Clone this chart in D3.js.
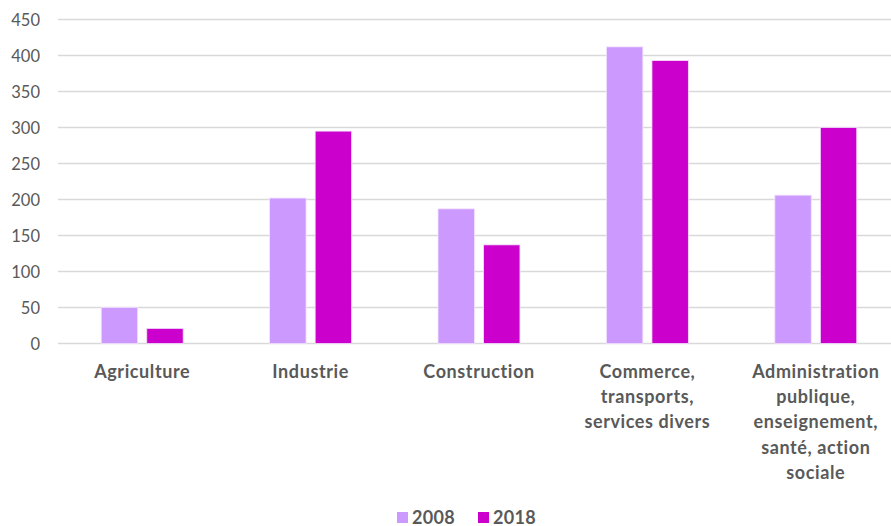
<!DOCTYPE html>
<html>
<head>
<style type="text/css">
body { margin: 0; background: #fff; }
svg { font-family: Lato, "Open Sans", sans-serif; }
.grid line { stroke: #d9d9d9; stroke-width: 1.3; }
.ytick { fill: #595959; font-size: 16.5px; }
.cat { fill: #595959; font-size: 18px; font-weight: bold; letter-spacing: 0.6px; }
.leg { fill: #595959; font-size: 18px; font-weight: bold; letter-spacing: 0.3px; }
</style>
<script src="https://d3js.org/d3.v7.min.js"></script>
</head>
<body>
<script type="text/javascript">
var categories = [
	["Agriculture"],
	["Industrie"],
	["Construction"],
	["Commerce,", "transports,", "services divers"],
	["Administration", "publique,", "enseignement,", "santé, action", "sociale"]
];
var seriesNames = ["2008", "2018"];
var values2008 = [50, 202, 187, 412, 206];
var values2018 = [21, 295, 137, 393, 300];
var yTicks = [0, 50, 100, 150, 200, 250, 300, 350, 400, 450];
var colors = ["#cc99ff", "#cc00cc"];

var width = 891, height = 526;
var plotLeft = 58, plotTop = 19.5, plotBottom = 343.5, plotRight = 900;

var svg = d3.select("body").append("svg").attr("width", width).attr("height", height);

var x = d3.scaleBand().domain(d3.range(categories.length)).range([plotLeft, plotRight]);
var xs = d3.scaleBand().domain(seriesNames).range([0, x.bandwidth()]).paddingInner(0.2).paddingOuter(0.95);
var y = d3.scaleLinear().domain([0, 450]).range([plotBottom, plotTop]);

var grid = svg.append("g").attr("class", "grid");
grid.selectAll("line").data(yTicks).enter().append("line")
	.attr("x1", plotLeft).attr("x2", width)
	.attr("y1", function(d){ return y(d); })
	.attr("y2", function(d){ return y(d); });

svg.selectAll(".ytick").data(yTicks).enter().append("text")
	.attr("class", "ytick")
	.attr("x", 40)
	.attr("y", function(d){ return y(d) + 6; })
	.attr("text-anchor", "end")
	.text(function(d){ return d; });

var data = [values2008, values2018];
data.forEach(function(vals, s) {
	svg.selectAll(".bar" + s).data(vals).enter().append("rect")
		.attr("class", "bar" + s)
		.attr("x", function(d, i){ return x(i) + xs(seriesNames[s]); })
		.attr("width", xs.bandwidth())
		.attr("y", function(d){ return y(d); })
		.attr("height", function(d){ return y(0) - y(d); })
		.attr("fill", colors[s])
		.attr("stroke", "#f2e0ff")
		.attr("stroke-width", 0.8);
});

var cats = svg.selectAll(".cat").data(categories).enter().append("text")
	.attr("class", "cat")
	.attr("text-anchor", "middle")
	.attr("transform", function(d, i){ return "translate(" + (x(i) + x.bandwidth() / 2) + ",378)"; });
cats.selectAll("tspan").data(function(d){ return d; }).enter().append("tspan")
	.attr("x", 0)
	.attr("y", function(d, j){ return j * 25.2; })
	.text(function(d){ return d; });

var legX = [397, 478];
seriesNames.forEach(function(name, s) {
	svg.append("rect").attr("x", legX[s]).attr("y", 512).attr("width", 11).attr("height", 11).attr("fill", colors[s]);
	svg.append("text").attr("class", "leg").attr("x", legX[s] + 15).attr("y", 523.5).text(name);
});
</script>
</body>
</html>
